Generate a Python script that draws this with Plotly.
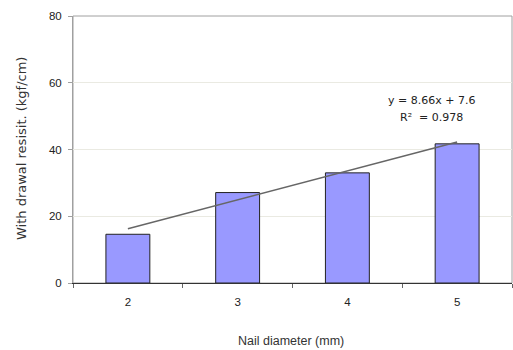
import plotly.graph_objects as go

categories = ["2", "3", "4", "5"]
values = [14.6, 27.1, 33.0, 41.7]
trend_slope = 8.66
trend_intercept = 7.6
trend_label = "y = 8.66x + 7.6"
r2_label = "R²  = 0.978"
y_ticks = [0, 20, 40, 60, 80]
x_title = "Nail diameter (mm)"
y_title = "With drawal resisit. (kgf/cm)"

font = "Liberation Sans, Arial, sans-serif"

W, H = 513, 350
ML, MR, MT, MB = 73, 1, 16, 67
plot_w = W - ML - MR
plot_h = H - MT - MB

trend_y = [trend_slope * (i + 1) + trend_intercept for i in range(len(categories))]

fig = go.Figure()
fig.add_trace(go.Bar(
    x=categories, y=values, width=0.4,
    marker=dict(color="#9999FF", line=dict(color="#222222", width=1)),
    showlegend=False, hoverinfo="skip",
))
fig.add_trace(go.Scatter(
    x=categories, y=trend_y, mode="lines",
    line=dict(color="#666666", width=1.5),
    showlegend=False, hoverinfo="skip",
))

fig.add_shape(type="rect", xref="paper", yref="paper", x0=0, x1=1, y0=0, y1=1,
              line=dict(color="#A0A0A0", width=1), layer="below")

fig.add_annotation(x=(431 - ML) / plot_w, y=(283 - 100.5) / plot_h, xref="paper", yref="paper",
                   text=trend_label, showarrow=False,
                   font=dict(family="DejaVu Sans, sans-serif", size=11, color="#222"),
                   xanchor="center", yanchor="middle")
fig.add_annotation(x=(431 - ML) / plot_w, y=(283 - 117.5) / plot_h, xref="paper", yref="paper",
                   text=r2_label, showarrow=False,
                   font=dict(family="DejaVu Sans, sans-serif", size=11, color="#222"),
                   xanchor="center", yanchor="middle")

fig.add_annotation(x=0.496, y=-(341 - 283) / plot_h, xref="paper", yref="paper", text=x_title,
                   showarrow=False, font=dict(family=font, size=12.5, color="#333"),
                   xanchor="center", yanchor="middle")
fig.add_annotation(x=-(73 - 21) / plot_w, y=(283 - 149) / plot_h, xref="paper", yref="paper",
                   text=y_title, textangle=-90, showarrow=False,
                   font=dict(family="DejaVu Sans, sans-serif", size=13, color="#333"),
                   xanchor="center", yanchor="middle")

fig.update_layout(
    width=W, height=H,
    margin=dict(l=ML, r=MR, t=MT, b=MB),
    paper_bgcolor="white", plot_bgcolor="white",
    font=dict(family=font, size=11, color="#222"),
    xaxis=dict(
        type="category", showgrid=False, showline=True, linecolor="#333333", linewidth=1,
        ticks="outside", tickson="boundaries", ticklen=4, tickcolor="#666",
        tickfont=dict(size=11.5), range=[-0.5, 3.5], automargin=False,
        ticklabelstandoff=8,
    ),
    yaxis=dict(
        range=[0, 80], tickvals=y_ticks, showgrid=True, gridcolor="#EAEAE2",
        showline=True, linecolor="#A0A0A0", zeroline=False,
        ticks="outside", ticklen=4, tickcolor="#A0A0A0", tickfont=dict(size=11.5),
        automargin=False, ticklabelstandoff=4,
    ),
)

fig.write_html("out.html", config={"displayModeBar": False},
               post_script="document.body.style.margin='0';document.body.style.overflow='hidden';")
